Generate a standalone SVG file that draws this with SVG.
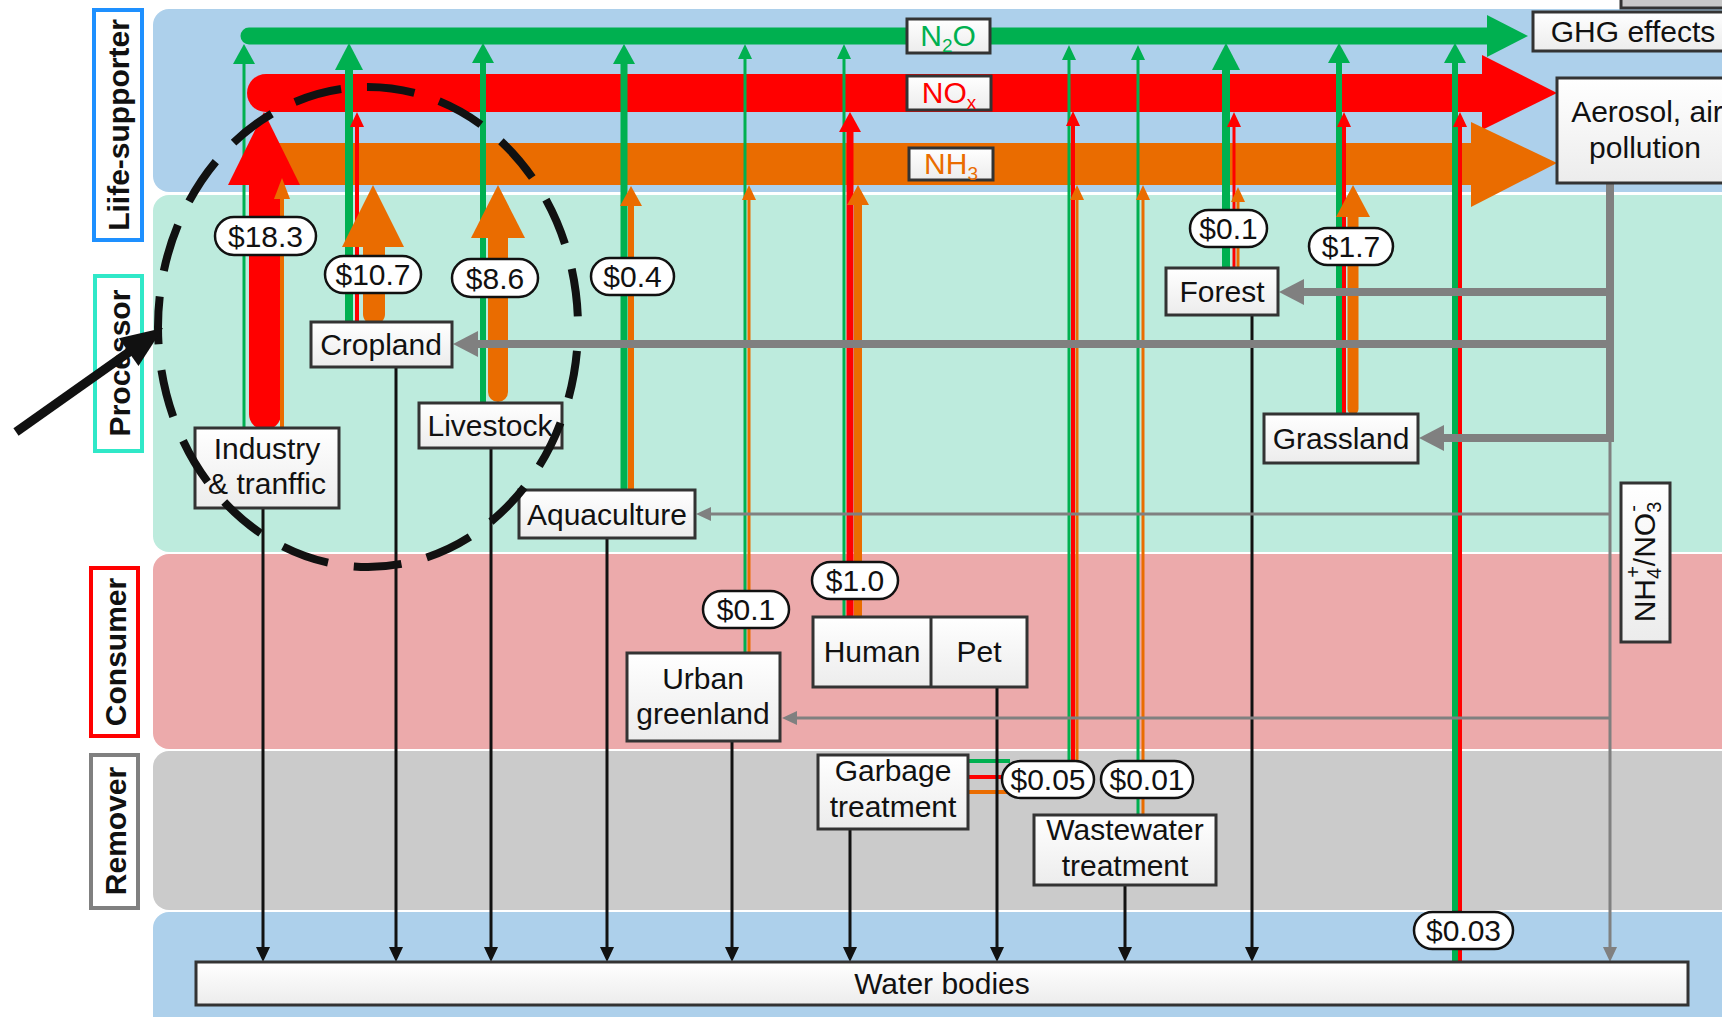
<svg xmlns="http://www.w3.org/2000/svg" width="1722" height="1017" viewBox="0 0 1722 1017">
<defs>
<style>
.t{font-family:"Liberation Sans",Arial,sans-serif;font-size:30px;fill:#111;text-anchor:middle}
.lb{font-family:"Liberation Sans",Arial,sans-serif;font-size:30px;font-weight:bold;fill:#111;text-anchor:middle}
.pt{font-family:"Liberation Sans",Arial,sans-serif;font-size:30px;fill:#111;text-anchor:middle}
.box{fill:url(#bx);stroke:#333;stroke-width:3}
.pill{fill:#fff;stroke:#111;stroke-width:2.5}
.g{stroke:#00B050;fill:none}
.r{stroke:#FF0000;fill:none}
.o{stroke:#EA6C00;fill:none}
.fg{fill:#00B050}
.fr{fill:#FF0000}
.fo{fill:#EA6C00}
.k{stroke:#111;stroke-width:3;fill:none}
.fk{fill:#111}
.gr{stroke:#808080;fill:none}
.fgr{fill:#808080}
</style>
<linearGradient id="bx" x1="0" y1="0" x2="0" y2="1"><stop offset="0" stop-color="#FFFFFF"/><stop offset="1" stop-color="#ECECEC"/></linearGradient>
<path id="hs" d="M0,0 L-7,15 L7,15 Z"/>
<path id="hm" d="M0,0 L-11,20 L11,20 Z"/>
<path id="hl" d="M0,0 L-14,27 L14,27 Z"/>
<path id="hg" d="M0,0 L-13,25 L13,25 Z"/>
</defs>
<rect x="0" y="0" width="1722" height="1017" fill="#fff"/>
<g id="bands">
<rect x="153" y="9" width="1600" height="183" rx="16" fill="#ADD0EB"/>
<rect x="153" y="195" width="1600" height="357" rx="16" fill="#BDEBDD"/>
<rect x="153" y="554" width="1600" height="195" rx="16" fill="#ECAAAB"/>
<rect x="153" y="751" width="1600" height="159" rx="16" fill="#CBCBCB"/>
<rect x="153" y="912" width="1600" height="130" rx="16" fill="#ADD0EB"/>
</g>
<g id="lbl-life"><rect x="94" y="10" width="48" height="230" fill="#fff" stroke="#1E90FF" stroke-width="4"/><text class="lb" transform="translate(118,125) rotate(-90)" dy="11">Liife-supporter</text></g>
<g id="lbl-processor"><rect x="95" y="276" width="47" height="175" fill="#fff" stroke="#30E8C8" stroke-width="4"/><text class="lb" transform="translate(118.5,363) rotate(-90)" dy="11">Processor</text></g>
<g id="lbl-consumer"><rect x="91" y="568" width="47" height="168" fill="#fff" stroke="#FF0000" stroke-width="4"/><text class="lb" transform="translate(114.5,652) rotate(-90)" dy="11">Consumer</text></g>
<g id="lbl-remover"><rect x="91" y="755" width="47" height="153" fill="#fff" stroke="#808080" stroke-width="4"/><text class="lb" transform="translate(114.5,831) rotate(-90)" dy="11">Remover</text></g>

<g id="connectors">
<line class="g" x1="249" y1="36" x2="1492" y2="36" stroke-width="17" stroke-linecap="round"/>
<polygon class="fg" points="1528,36 1487,15 1487,57"/>
<line class="r" x1="266" y1="93" x2="1486" y2="93" stroke-width="38" stroke-linecap="round"/>
<polygon class="fr" points="1557,93 1482,55 1482,130"/>
<rect class="fo" x="270" y="143" width="1205" height="42"/>
<polygon class="fo" points="1557,163 1471,122 1471,207"/>

<line class="g" x1="244" y1="428" x2="244" y2="60" stroke-width="3"/>
<use href="#hm" class="fg" x="244" y="44"/>
<line class="r" x1="265" y1="414" x2="265" y2="180" stroke-width="32" stroke-linecap="round"/>
<polygon class="fr" points="264,112 228,185 300,185"/>
<line class="o" x1="282" y1="428" x2="282" y2="192" stroke-width="4"/>
<polygon class="fo" points="282,178 274,199 290,199"/>

<line class="g" x1="349" y1="322" x2="349" y2="66" stroke-width="8"/>
<use href="#hl" class="fg" x="349" y="43"/>
<line class="r" x1="357" y1="322" x2="357" y2="125" stroke-width="4"/>
<use href="#hs" class="fr" x="357" y="112"/>
<line class="o" x1="374" y1="314" x2="374" y2="240" stroke-width="22" stroke-linecap="round"/>
<polygon class="fo" points="373,185 342,247 404,247"/>

<line class="g" x1="483" y1="403" x2="483" y2="60" stroke-width="6"/>
<use href="#hm" class="fg" x="483" y="43"/>
<line class="o" x1="498" y1="392" x2="498" y2="232" stroke-width="20" stroke-linecap="round"/>
<polygon class="fo" points="498,185 471,238 525,238"/>

<line class="g" x1="624" y1="490" x2="624" y2="60" stroke-width="7"/>
<use href="#hm" class="fg" x="624" y="44"/>
<line class="o" x1="631" y1="490" x2="631" y2="202" stroke-width="6"/>
<use href="#hm" class="fo" x="631" y="186"/>

<line class="g" x1="745" y1="653" x2="745" y2="56" stroke-width="3"/>
<use href="#hs" class="fg" x="745" y="44"/>
<line class="o" x1="749" y1="653" x2="749" y2="197" stroke-width="3"/>
<use href="#hs" class="fo" x="749" y="185"/>

<line class="g" x1="844" y1="617" x2="844" y2="56" stroke-width="3"/>
<use href="#hs" class="fg" x="844" y="44"/>
<line class="r" x1="850" y1="617" x2="850" y2="128" stroke-width="7"/>
<use href="#hm" class="fr" x="850" y="112"/>
<line class="o" x1="858" y1="617" x2="858" y2="201" stroke-width="8"/>
<use href="#hm" class="fo" x="858" y="185"/>

<line class="g" x1="1069" y1="761" x2="1069" y2="56" stroke-width="3"/>
<use href="#hs" class="fg" x="1069" y="45"/>
<line class="r" x1="1073" y1="761" x2="1073" y2="123" stroke-width="4"/>
<use href="#hs" class="fr" x="1073" y="111"/>
<line class="o" x1="1077" y1="761" x2="1077" y2="197" stroke-width="3"/>
<use href="#hs" class="fo" x="1077" y="185"/>
<line class="g" x1="968" y1="761" x2="1010" y2="761" stroke-width="4"/>
<line class="r" x1="968" y1="777" x2="1004" y2="777" stroke-width="4"/>
<line class="o" x1="968" y1="792" x2="1008" y2="792" stroke-width="4"/>

<line class="g" x1="1138" y1="815" x2="1138" y2="56" stroke-width="3"/>
<use href="#hs" class="fg" x="1138" y="45"/>
<line class="o" x1="1143" y1="815" x2="1143" y2="197" stroke-width="3"/>
<use href="#hs" class="fo" x="1143" y="185"/>

<line class="g" x1="1226" y1="268" x2="1226" y2="64" stroke-width="8"/>
<use href="#hl" class="fg" x="1226" y="43"/>
<line class="r" x1="1234" y1="268" x2="1234" y2="124" stroke-width="3"/>
<use href="#hs" class="fr" x="1234" y="112"/>
<line class="o" x1="1238" y1="268" x2="1238" y2="199" stroke-width="3"/>
<use href="#hs" class="fo" x="1238" y="187"/>

<line class="g" x1="1339" y1="414" x2="1339" y2="60" stroke-width="6"/>
<use href="#hm" class="fg" x="1339" y="43"/>
<line class="r" x1="1344" y1="414" x2="1344" y2="124" stroke-width="4"/>
<use href="#hs" class="fr" x="1344" y="112"/>
<line class="o" x1="1353" y1="409" x2="1353" y2="212" stroke-width="11" stroke-linecap="round"/>
<polygon class="fo" points="1353,185 1336,217 1370,217"/>

<line class="g" x1="1455" y1="962" x2="1455" y2="60" stroke-width="6"/>
<use href="#hm" class="fg" x="1455" y="43"/>
<line class="r" x1="1460" y1="962" x2="1460" y2="124" stroke-width="4"/>
<use href="#hs" class="fr" x="1460" y="112"/>

<line class="k" x1="263" y1="508" x2="263" y2="950"/><use href="#hs" class="fk" transform="translate(263,962) rotate(180)"/>
<line class="k" x1="396" y1="367" x2="396" y2="950"/><use href="#hs" class="fk" transform="translate(396,962) rotate(180)"/>
<line class="k" x1="491" y1="448" x2="491" y2="950"/><use href="#hs" class="fk" transform="translate(491,962) rotate(180)"/>
<line class="k" x1="607" y1="538" x2="607" y2="950"/><use href="#hs" class="fk" transform="translate(607,962) rotate(180)"/>
<line class="k" x1="732" y1="741" x2="732" y2="950"/><use href="#hs" class="fk" transform="translate(732,962) rotate(180)"/>
<line class="k" x1="850" y1="829" x2="850" y2="950"/><use href="#hs" class="fk" transform="translate(850,962) rotate(180)"/>
<line class="k" x1="997" y1="687" x2="997" y2="950"/><use href="#hs" class="fk" transform="translate(997,962) rotate(180)"/>
<line class="k" x1="1125" y1="885" x2="1125" y2="950"/><use href="#hs" class="fk" transform="translate(1125,962) rotate(180)"/>
<line class="k" x1="1252" y1="315" x2="1252" y2="950"/><use href="#hs" class="fk" transform="translate(1252,962) rotate(180)"/>

<path class="gr" d="M1610,183 V438 H1440" stroke-width="8"/>
<line class="gr" x1="1610" y1="292" x2="1300" y2="292" stroke-width="8"/>
<line class="gr" x1="1610" y1="344" x2="474" y2="344" stroke-width="8"/>
<use href="#hg" class="fgr" transform="translate(1279,292) rotate(-90)"/>
<use href="#hg" class="fgr" transform="translate(453,344) rotate(-90)"/>
<use href="#hg" class="fgr" transform="translate(1419,438) rotate(-90)"/>
<line class="gr" x1="1610" y1="438" x2="1610" y2="950" stroke-width="3"/>
<use href="#hs" class="fgr" transform="translate(1610,962) rotate(180)"/>
<line class="gr" x1="1610" y1="514" x2="708" y2="514" stroke-width="3"/>
<use href="#hs" class="fgr" transform="translate(696,514) rotate(-90)"/>
<line class="gr" x1="1610" y1="718" x2="794" y2="718" stroke-width="3"/>
<use href="#hs" class="fgr" transform="translate(782,718) rotate(-90)"/>
</g>

<g id="gas-labels">
<g id="lbl-n2o"><rect x="907" y="19" width="83" height="34" class="box"/><text class="t" x="948" y="46" style="fill:#00B050">N<tspan font-size="19" dy="6">2</tspan><tspan dy="-6">O</tspan></text></g>
<g id="lbl-nox"><rect x="907" y="76" width="84" height="34" class="box"/><text class="t" x="949" y="103" style="fill:#FF0000">NO<tspan font-size="19" dy="6">x</tspan></text></g>
<g id="lbl-nh3"><rect x="909" y="148" width="84" height="32" class="box"/><text class="t" x="951" y="174" style="fill:#EA6C00">NH<tspan font-size="19" dy="6">3</tspan></text></g>
</g>

<g id="node-topright"><rect x="1621" y="-4" width="110" height="12" fill="#C8C8C8" stroke="#333" stroke-width="3"/></g>
<g id="node-ghg"><rect x="1533" y="12" width="200" height="39" class="box"/><text class="t" x="1633" y="42">GHG effects</text></g>
<g id="node-aerosol"><rect x="1557" y="78" width="180" height="105" class="box"/><text class="t" x="1647" y="122">Aerosol, air</text><text class="t" x="1645" y="158">pollution</text></g>
<g id="node-industry"><rect x="195" y="428" width="144" height="80" class="box"/><text class="t" x="267" y="459">Industry</text><text class="t" x="267" y="494">&amp; tranffic</text></g>
<g id="node-cropland"><rect x="311" y="322" width="141" height="45" class="box"/><text class="t" x="381" y="355">Cropland</text></g>
<g id="node-livestock"><rect x="419" y="403" width="143" height="45" class="box"/><text class="t" x="490" y="436">Livestock</text></g>
<g id="node-aquaculture"><rect x="519" y="490" width="176" height="48" class="box"/><text class="t" x="607" y="525">Aquaculture</text></g>
<g id="node-urban"><rect x="627" y="653" width="153" height="88" class="box"/><text class="t" x="703" y="689">Urban</text><text class="t" x="703" y="724">greenland</text></g>
<g id="node-human-pet"><rect x="813" y="617" width="214" height="70" class="box"/><line x1="931" y1="617" x2="931" y2="687" stroke="#333" stroke-width="3"/><text class="t" x="872" y="662">Human</text><text class="t" x="979" y="662">Pet</text></g>
<g id="node-garbage"><rect x="818" y="755" width="150" height="74" class="box"/><text class="t" x="893" y="781">Garbage</text><text class="t" x="893" y="817">treatment</text></g>
<g id="node-wastewater"><rect x="1034" y="815" width="182" height="70" class="box"/><text class="t" x="1125" y="840">Wastewater</text><text class="t" x="1125" y="876">treatment</text></g>
<g id="node-forest"><rect x="1166" y="268" width="112" height="47" class="box"/><text class="t" x="1222" y="302">Forest</text></g>
<g id="node-grassland"><rect x="1264" y="414" width="154" height="49" class="box"/><text class="t" x="1341" y="449">Grassland</text></g>
<g id="node-nh4no3"><rect x="1621" y="483" width="49" height="159" class="box"/><text class="t" font-size="31" transform="translate(1644,562) rotate(-90)" dy="11">NH<tspan font-size="20" dy="6">4</tspan><tspan font-size="20" dx="-10" dy="-21">+</tspan><tspan dy="15">/NO</tspan><tspan font-size="20" dy="6">3</tspan><tspan font-size="20" dx="-10" dy="-21">-</tspan></text></g>
<g id="node-water"><rect x="196" y="962" width="1492" height="43" class="box"/><text class="t" x="942" y="994">Water bodies</text></g>

<g id="values">
<rect class="pill" x="215" y="217" width="101" height="38" rx="19"/><text class="pt" x="265.5" y="247">$18.3</text>
<rect class="pill" x="325" y="256" width="96" height="37" rx="18.5"/><text class="pt" x="373" y="285">$10.7</text>
<rect class="pill" x="452" y="259" width="86" height="38" rx="19"/><text class="pt" x="495" y="289">$8.6</text>
<rect class="pill" x="591" y="258" width="83" height="37" rx="18.5"/><text class="pt" x="632.5" y="287">$0.4</text>
<rect class="pill" x="1190" y="210" width="77" height="37" rx="18.5"/><text class="pt" x="1228.5" y="239">$0.1</text>
<rect class="pill" x="1309" y="228" width="84" height="37" rx="18.5"/><text class="pt" x="1351" y="257">$1.7</text>
<rect class="pill" x="703" y="591" width="86" height="37" rx="18.5"/><text class="pt" x="746" y="620">$0.1</text>
<rect class="pill" x="812" y="562" width="86" height="37" rx="18.5"/><text class="pt" x="855" y="591">$1.0</text>
<rect class="pill" x="1002" y="761" width="92" height="37" rx="18.5"/><text class="pt" x="1048" y="790">$0.05</text>
<rect class="pill" x="1101" y="761" width="92" height="37" rx="18.5"/><text class="pt" x="1147" y="790">$0.01</text>
<rect class="pill" x="1414" y="912" width="99" height="37" rx="18.5"/><text class="pt" x="1463.5" y="941">$0.03</text>
</g>

<g id="highlight">
<ellipse cx="368" cy="327" rx="210" ry="240" fill="none" stroke="#111" stroke-width="8" stroke-dasharray="48 26" stroke-dashoffset="50"/>
<line x1="16" y1="432" x2="132" y2="350" stroke="#111" stroke-width="9"/>
<polygon points="163,328 138.5,366.1 118.9,338.3" fill="#111"/>
</g>
</svg>
